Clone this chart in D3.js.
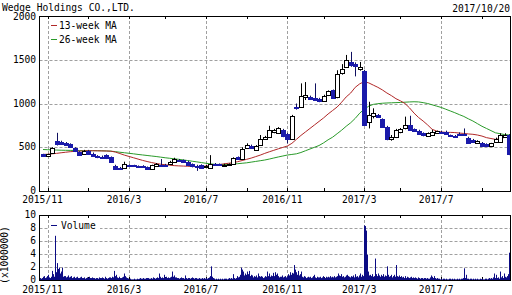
<!DOCTYPE html>
<html><head><meta charset="utf-8">
<script src="https://cdn.jsdelivr.net/npm/d3@7"></script>
<style>
body{margin:0;background:#fff;}
svg{display:block;}
text{font-family:"DejaVu Sans Mono",monospace;font-size:9.6px;fill:#000;}
</style></head><body>
<svg id="c" width="512" height="295"></svg>
<script>
const title = "Wedge Holdings CO.,LTD.";
const dateLabel = "2017/10/20";
const firstWeek = "2015-10-26"; // Monday of first weekly candle
const seriesNames = ["13-week MA", "26-week MA"];
const volumeName = "Volume";
const volumeUnit = "(x1000000)";
const priceTicks = [0, 500, 1000, 1500, 2000];
const volTicks = [0, 2, 4, 6, 8, 10];

const open = [418,405,430,570,560,548,535,490,445,425, 460,418,395,392,410,385,290,265,265,295,
 292,285,290,272,255,285,300,295,305,335, 355,350,335,310,290,295,280,268,312,305,
 300,300,310,385,370,490,515,470,525,598, 620,672,665,700,650,595,965,965,1080,1075,
 1060,1050,1030,1095,1150,1070,1345,1420,1475,1455, 1390,1375,790,855,870,820,735,590,615,670,
 715,750,705,690,660,632,640,662,680,680, 635,632,655,650,610,585,550,550,535,515,
 565,565,615,640];
const high = [425,425,500,665,575,560,545,500,455,470, 470,440,410,405,420,395,300,275,335,305,
 300,292,295,280,300,320,365,310,345,380, 365,360,345,315,300,305,300,410,320,315,
 312,315,385,395,500,545,530,525,640,630, 745,710,730,710,665,870,1000,1230,1245,1090,
 1230,1065,1100,1150,1160,1380,1450,1555,1590,1470, 1475,1385,1020,945,880,830,745,640,710,720,
 850,860,715,700,670,670,700,690,690,690, 645,640,670,715,620,595,580,560,545,550,
 610,660,660,650];
const low = [398,400,425,520,535,520,495,445,400,415, 420,395,375,378,365,325,245,250,255,280,
 278,270,265,250,240,280,290,285,300,330, 340,320,290,270,230,255,270,262,300,295,
 292,295,305,358,365,485,480,465,520,585, 615,660,655,615,545,590,930,955,1040,1040,
 1035,1015,1020,1085,1055,1060,1330,1410,1420,1310, 1375,750,715,830,835,730,580,575,605,660,
 705,690,675,645,625,625,635,655,660,645, 625,622,640,635,545,550,545,512,505,510,
 560,560,610,410];
const close = [405,418,490,532,540,528,505,452,410,460, 428,405,390,385,375,335,255,258,305,290,
 288,280,272,256,295,310,295,293,335,370, 352,330,300,285,275,265,285,310,305,300,
 302,310,380,365,485,525,490,515,600,620, 695,695,715,625,590,855,945,1090,1100,1055,
 1045,1030,1090,1140,1065,1340,1400,1495,1440,1425, 1420,755,870,890,845,735,590,620,700,710,
 750,700,685,655,635,662,680,685,672,652, 632,630,645,640,552,555,575,518,510,545,
 600,640,640,420];

const ma13 = [418,420,425,430,437,443,449,453,456,458, 460,460,459,458,457,455,445,428,410,395,
 380,365,350,337,325,315,306,300,295,290, 287,285,283,280,278,280,285,290,296,303,
 310,317,323,335,348,362,376,393,410,430, 448,465,482,498,514,545,590,635,675,715,
 755,795,835,880,920,960,1015,1075,1120,1185, 1225,1250,1235,1210,1185,1155,1120,1090,1055,1030,
 1000,950,890,840,800,755,705,685,675,670, 670,668,662,658,652,648,640,628,610,600,
 590,598,612,620];
const ma26 = [474,472,470,468,466,465,464,463,462,462, 461,461,461,460,458,455,450,443,437,431,
 425,418,412,406,400,394,387,380,374,368, 362,355,348,340,333,325,317,310,305,303,
 303,305,308,312,317,322,330,338,346,354, 365,377,389,400,411,418,425,440,460,480,
 500,520,550,585,615,655,695,740,780,830, 890,935,970,990,998,1003,1006,1008,1010,1012,
 1015,1018,1020,1018,1010,1000,985,970,955,935, 915,895,873,852,825,800,770,740,715,690,
 665,655,645,640];

// daily volume (millions), weekdays starting Mon 2015-10-19
const volume = [
 0.2,0.2,0.3,0.2,0.3, 0.3,0.5,0.6,0.3,0.4, 0.6,0.8,0.4,0.3,0.5, 1.4,0.6,0.9,0.5,6.8,
 1.2,2.6,1.7,1.9,1.0, 1.3,1.9,0.7,0.5,0.6, 0.6,0.4,0.5,0.7,0.4, 0.5,0.4,0.6,0.3,0.4,
 0.5,0.3,0.4,0.5,0.3, 0.3,0.4,0.3,0.5,0.3, 0.3,0.4,0.2,0.3,0.4, 0.3,0.5,0.3,0.2,0.3,
 0.4,0.3,0.3,0.2,0.3, 0.3,0.2,0.4,0.3,0.2, 0.3,0.4,0.3,0.2,0.5, 0.3,0.2,0.3,0.4,0.3,
 0.4,0.3,0.5,0.4,1.4, 0.6,0.8,0.4,0.3,0.5, 0.4,0.3,0.3,0.4,0.5, 1.0,0.6,0.4,0.3,0.2,
 0.2,0.1,0.2,0.1,0.1, 0.1,0.2,0.1,0.1,0.2, 0.1,0.1,0.2,0.3,0.2, 0.2,0.3,0.2,0.2,0.3,
 0.3,0.2,0.3,0.2,0.2, 0.3,0.2,0.4,0.3,0.2, 0.3,0.2,0.4,0.3,1.0, 0.5,0.3,0.4,0.3,0.8,
 0.4,0.3,0.5,0.3,0.4, 0.3,0.4,0.5,1.3,0.5, 0.7,0.4,0.3,0.4,0.3, 0.3,0.2,0.3,0.4,0.3,
 0.3,0.2,0.3,0.7,0.3, 0.2,0.3,0.3,0.2,0.3, 0.4,0.3,0.2,0.3,0.2, 0.3,0.2,0.2,0.3,0.2,
 0.2,0.3,0.2,0.2,0.3, 0.2,0.3,0.2,0.3,0.4, 0.6,2.1,0.5,0.3,0.2, 0.2,0.1,0.2,0.1,0.2,
 0.1,0.2,0.1,0.2,0.1, 0.2,0.1,0.2,0.2,0.1, 0.2,0.3,0.2,0.3,0.2, 0.9,0.4,0.3,0.2,0.3,
 0.6,0.4,0.5,0.8,1.9, 1.6,0.8,1.3,0.7,1.0, 0.8,1.3,0.9,1.4,0.6, 0.8,0.5,0.7,0.4,0.6,
 0.5,0.7,0.4,1.0,0.6, 0.5,0.6,0.4,0.5,0.3, 0.4,0.6,0.5,1.3,0.6, 1.0,0.5,0.7,0.4,0.6,
 1.1,0.6,1.2,0.8,1.0, 0.6,0.4,0.5,0.3,0.5, 0.7,0.4,0.5,0.6,0.4, 0.6,0.9,0.7,1.0,1.2,
 0.8,1.1,1.0,2.3,1.6, 1.2,0.8,1.4,0.7,0.9, 0.6,1.3,0.5,0.4,0.6, 0.5,0.3,0.4,0.5,0.3,
 0.4,0.5,0.3,0.4,0.6, 0.8,0.4,0.3,0.5,0.4, 0.3,0.4,0.5,0.3,0.4, 0.6,0.4,0.3,0.5,0.4,
 0.3,0.5,0.4,0.6,0.4, 0.5,0.4,0.6,0.4,0.5, 0.6,1.0,0.5,0.7,0.6, 0.9,0.5,0.6,0.4,0.5,
 0.7,0.5,0.8,0.6,0.5, 0.4,0.6,0.5,0.7,0.4, 0.9,0.5,0.3,0.6,0.4, 0.7,1.0,0.5,0.8,0.6,
 8.4,8.3,7.6,6.6,3.9, 1.3,0.7,0.8,0.6,0.9, 0.5,0.6,3.3,0.7,0.9, 0.6,1.0,0.7,0.5,0.8,
 0.6,0.9,0.5,0.7,0.4, 0.6,2.1,0.8,0.5,0.6, 0.8,0.4,0.6,0.8,0.5, 0.4,2.3,0.6,0.5,0.7,
 0.4,0.6,0.4,0.5,0.3, 0.6,0.4,0.3,0.5,0.4, 0.3,0.4,0.5,0.3,0.4, 0.3,0.2,0.4,0.3,0.2,
 0.4,0.3,0.2,0.3,0.3, 0.2,0.3,0.2,0.3,0.2, 0.3,0.2,0.2,0.4,0.7, 0.5,0.3,0.2,0.6,0.3,
 0.2,0.3,0.2,0.2,0.1, 0.2,0.1,0.2,0.1,0.2, 0.1,0.2,0.1,0.1,0.2, 0.2,0.1,0.2,0.1,0.1,
 0.2,0.1,0.1,0.2,0.1, 0.2,0.1,0.2,0.1,0.2, 0.3,1.8,0.3,0.8,0.2, 0.2,0.1,0.2,0.2,0.1,
 0.1,0.2,0.1,0.2,0.1, 0.2,0.1,0.1,0.2,0.1, 0.1,0.2,0.1,0.1,0.2, 0.2,0.1,0.2,0.3,0.1,
 0.2,0.3,0.2,0.4,1.0, 0.3,0.8,0.3,0.4,0.2, 0.5,1.3,0.4,0.6,0.3, 1.0,0.5,0.4,0.6,0.9,
 4.2,1.0,0.6,0.4,0.3
];
const volStartOffset = -5; // first volume day relative to first candle Monday

const svg = d3.select("#c");
const L = 39.5, R = 510.5;
const mainTop = 16, mainBot = 191;
const volTop = 215, volBot = 280;
const UP = "#ffffff", DOWN = "#1a1aaa", VOLC = "#0c0c84";
const RED = "#b02828", GREEN = "#2a9a2a", GRID = "#a0a0a0";

const n = close.length;
const x = d3.scaleLinear().domain([0, n - 1]).range([43, 43 + 4.525 * (n - 1)]);
const y = d3.scaleLinear().domain([0, 2000]).range([mainBot, mainTop]);
const yv = d3.scaleLinear().domain([0, 10]).range([volBot, volTop]);

const t0 = new Date(firstWeek + "T00:00:00");
const weekDates = d3.range(n).map(i => d3.timeDay.offset(t0, 7 * i));
const ticks = [];
weekDates.forEach((d, i) => {
  const prev = d3.timeDay.offset(d, -7);
  if (d.getMonth() !== prev.getMonth() && d.getMonth() % 2 === 0) {
    ticks.push({i, date: d, major: [2, 6, 10].includes(d.getMonth())});
  }
});
const fmt = d => d.getFullYear() + "/" + (d.getMonth() + 1);

const defs = svg.append("defs");
defs.append("clipPath").attr("id", "cm").append("rect").attr("x", L).attr("y", mainTop).attr("width", R - L).attr("height", mainBot - mainTop);
defs.append("clipPath").attr("id", "cv").append("rect").attr("x", L).attr("y", volTop).attr("width", R - L).attr("height", volBot - volTop);

function panelGrid(top, bot, hvals, ys) {
  const g = svg.append("g");
  hvals.forEach(v => {
    const yy = Math.round(ys(v)) + 0.5;
    g.append("line").attr("x1", L).attr("x2", R).attr("y1", yy).attr("y2", yy)
      .attr("stroke", GRID).attr("stroke-dasharray", "3,2");
  });
  ticks.forEach(t => {
    const xx = Math.round(x(t.i)) + 0.5;
    if (t.major) g.append("line").attr("x1", xx).attr("x2", xx).attr("y1", top).attr("y2", bot)
      .attr("stroke", GRID).attr("stroke-dasharray", "3,2");
    g.append("line").attr("x1", xx).attr("x2", xx).attr("y1", top).attr("y2", top + 3).attr("stroke", "#000");
    g.append("line").attr("x1", xx).attr("x2", xx).attr("y1", bot - 3).attr("y2", bot).attr("stroke", "#000");
  });
}

// ===== main panel =====
panelGrid(mainTop, mainBot, [500, 1000, 1500], y);

const cg = svg.append("g").attr("clip-path", "url(#cm)");
const line = d3.line().x((d, i) => x(i)).y(d => y(d));
cg.append("path").datum(ma26).attr("d", line).attr("fill", "none").attr("stroke", GREEN).attr("stroke-width", 1);
cg.append("path").datum(ma13).attr("d", line).attr("fill", "none").attr("stroke", RED).attr("stroke-width", 1);

d3.range(n).forEach(i => {
  const cx = Math.round(x(i));
  const up = close[i] >= open[i];
  cg.append("line").attr("x1", cx + 0.5).attr("x2", cx + 0.5)
    .attr("y1", y(high[i])).attr("y2", y(low[i])).attr("stroke", up ? "#000" : "#101060");
  const top = Math.round(y(Math.max(open[i], close[i])));
  const bot = Math.round(y(Math.min(open[i], close[i])));
  cg.append("rect").attr("x", cx - 1.5).attr("y", top + 0.5)
    .attr("width", 4).attr("height", Math.max(1, bot - top))
    .attr("fill", up ? UP : DOWN).attr("stroke", up ? "#000" : DOWN).attr("stroke-width", 1);
});

svg.append("rect").attr("x", L).attr("y", mainTop + 0.5).attr("width", R - L).attr("height", mainBot - mainTop)
  .attr("fill", "none").attr("stroke", "#000");

const lg = svg.append("g");
lg.append("rect").attr("x", 49).attr("y", 19).attr("width", 76).attr("height", 26).attr("fill", "#fff");
[[RED, seriesNames[0], 25], [GREEN, seriesNames[1], 39]].forEach(([c, t, yy]) => {
  lg.append("line").attr("x1", 51).attr("x2", 57).attr("y1", yy + 0.5).attr("y2", yy + 0.5).attr("stroke", c);
  lg.append("text").attr("x", 59).attr("y", yy + 3.5).text(t);
});

priceTicks.forEach(v => {
  svg.append("text").attr("x", 36).attr("y", y(v) + (v === 2000 ? 4 : 3)).attr("text-anchor", "end").text(v);
});
ticks.filter(t => t.major).forEach(t => {
  svg.append("text").attr("x", x(t.i) - 5).attr("y", 203).attr("text-anchor", "middle").text(fmt(t.date));
});

svg.append("text").attr("x", 2).attr("y", 11).text(title);
svg.append("text").attr("x", 510).attr("y", 12).attr("text-anchor", "end").text(dateLabel);

// ===== volume panel =====
panelGrid(volTop, volBot, [2, 4, 6, 8], yv);
const vg = svg.append("g").attr("clip-path", "url(#cv)");
volume.forEach((v, k) => {
  const d = k + volStartOffset;
  const xx = Math.floor(x(d / 5));
  vg.append("rect").attr("x", xx).attr("y", yv(v)).attr("width", 1).attr("height", yv(0) - yv(v)).attr("fill", VOLC);
});
svg.append("rect").attr("x", L).attr("y", volTop + 0.5).attr("width", R - L).attr("height", volBot - volTop)
  .attr("fill", "none").attr("stroke", "#000");
const vl = svg.append("g");
vl.append("rect").attr("x", 49).attr("y", 219).attr("width", 51).attr("height", 12).attr("fill", "#fff");
vl.append("line").attr("x1", 51).attr("x2", 57).attr("y1", 225.5).attr("y2", 225.5).attr("stroke", VOLC);
vl.append("text").attr("x", 61).attr("y", 229).text(volumeName);

volTicks.forEach(v => {
  svg.append("text").attr("x", 36).attr("y", yv(v) + 3).attr("text-anchor", "end").text(v);
});
ticks.filter(t => t.major).forEach(t => {
  svg.append("text").attr("x", x(t.i) - 5).attr("y", 293).attr("text-anchor", "middle").text(fmt(t.date));
});
svg.append("text").attr("transform", "translate(8,255) rotate(-90)").attr("text-anchor", "middle").text(volumeUnit);
</script>
</body></html>
